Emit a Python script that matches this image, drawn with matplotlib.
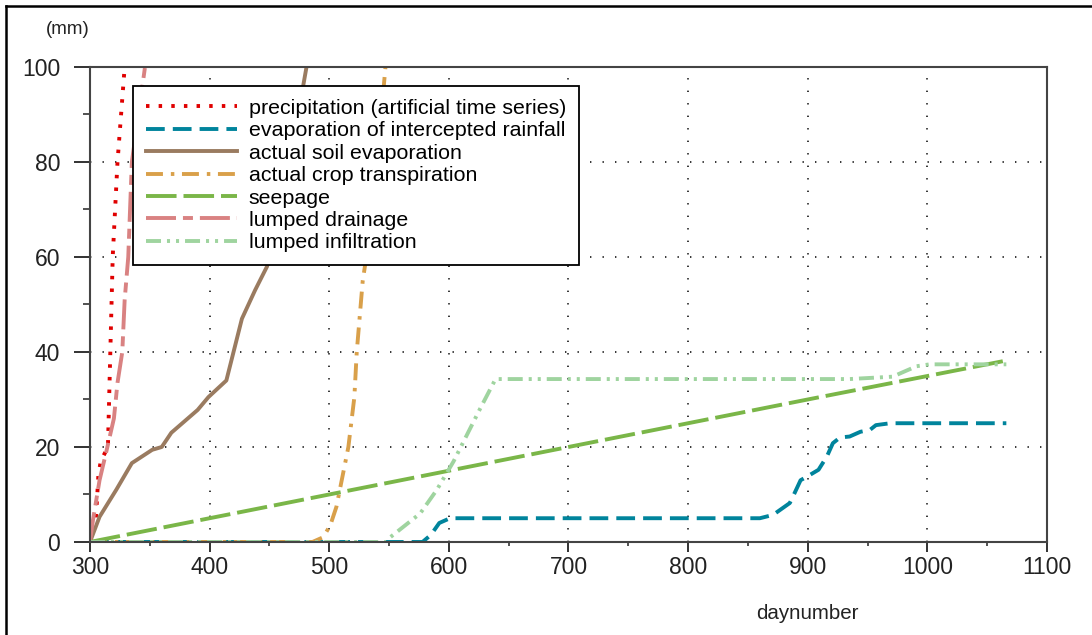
import matplotlib
matplotlib.use("Agg")
import matplotlib.pyplot as plt
from matplotlib.lines import Line2D
from matplotlib.ticker import MultipleLocator

plt.rcParams['font.family'] = ['Liberation Sans', 'DejaVu Sans']
plt.rcParams['lines.scale_dashes'] = False

# precipitation (artificial time series)
precip_day = [300, 305, 307, 309, 315, 317, 319, 323, 329, 335]
precip_mm = [0, 5, 14, 17, 20, 40, 60, 80, 100, 120]

# evaporation of intercepted rainfall
interc_day = [300, 578, 585, 592, 601, 860, 871, 885, 889, 894, 899, 909, 916, 921, 927,
              935, 944, 952, 957, 969, 1066]
interc_mm = [0, 0, 1.5, 4, 5, 5, 5.7, 8.2, 10.3, 13, 13.7, 15.2, 18, 20.8, 22,
             22.2, 23.2, 23.6, 24.6, 25, 25]

# actual soil evaporation
soil_day = [300, 308, 322, 335, 352, 360, 368, 390, 399, 414, 420, 427, 438, 448,
            458, 466, 474, 481]
soil_mm = [0, 5.3, 11, 16.6, 19.4, 20, 23, 27.8, 30.5, 34, 40, 47, 53, 58,
           70, 80, 90, 100]

# actual crop transpiration
crop_day = [300, 486, 495, 501, 506, 511, 516, 521, 523, 526, 528, 531, 540, 547]
crop_mm = [0, 0, 1, 3.6, 7.4, 13.7, 20, 30.5, 40, 49, 55, 60, 80, 100]

# seepage
seep_day = [300, 600, 900, 1066]
seep_mm = [0, 15, 30, 38.2]

# lumped drainage
drain_day = [300, 302.5, 308, 314, 320, 323, 327, 329, 332, 335, 346]
drain_mm = [0, 4.6, 13, 19.4, 26, 33.5, 40, 51, 60, 80, 100]

# lumped infiltration
infil_day = [300, 548, 551, 576, 590, 604, 626, 639, 935, 971, 980, 991, 1002, 1066]
infil_mm = [0, 0, 1, 6, 11, 17, 28, 34.3, 34.3, 34.8, 35.8, 37, 37.4, 37.4]

fig = plt.figure(figsize=(10.92, 6.35), dpi=100)
ax = fig.add_axes([0.0824, 0.1465, 0.8764, 0.748])

lw = 2.8
ax.plot(precip_day, precip_mm, color='#e00000', lw=lw, ls=(0, (2.5, 6.6)),
        label='precipitation (artificial time series)')
ax.plot(interc_day, interc_mm, color='#00849c', lw=lw, ls=(0, (13.5, 5.8)),
        label='evaporation of intercepted rainfall')
ax.plot(soil_day, soil_mm, color='#9a7b60', lw=lw, ls='-',
        label='actual soil evaporation')
ax.plot(crop_day, crop_mm, color='#d9a04a', lw=lw, ls=(0, (12.2, 5.7, 2.5, 5.5)),
        label='actual crop transpiration')
ax.plot(seep_day, seep_mm, color='#7ab648', lw=lw, ls=(0, (22, 5)),
        label='seepage')
ax.plot(drain_day, drain_mm, color='#d98282', lw=lw, ls=(0, (21.6, 5, 7.2, 5)),
        label='lumped drainage')
ax.plot(infil_day, infil_mm, color='#9fd49f', lw=lw,
        ls=(0, (10.8, 4.3, 2.2, 4.3, 2.2, 4.3)),
        label='lumped infiltration')

ax.set_xlim(300, 1100)
ax.set_ylim(0, 100)
ax.xaxis.set_major_locator(MultipleLocator(100))
ax.xaxis.set_minor_locator(MultipleLocator(50))
ax.yaxis.set_major_locator(MultipleLocator(20))
ax.yaxis.set_minor_locator(MultipleLocator(10))
ax.tick_params(which='both', direction='out', colors='#222222', labelsize=16.5)
ax.tick_params(axis='x', which='major', length=7, width=1.3, pad=3)
ax.tick_params(axis='x', which='minor', length=3, width=1.1)
ax.tick_params(axis='y', which='major', length=11.5, width=1.3, pad=10)
ax.tick_params(axis='y', which='minor', length=5, width=1.1)
ax.grid(True, which='major', color='black', ls=(0, (1, 8)), lw=1.1)
for s in ax.spines.values():
    s.set_color('#444444')
    s.set_linewidth(1.5)

leg = ax.legend(loc='upper left', bbox_to_anchor=(0.045, 0.96), borderaxespad=0,
                fontsize=15.4, handlelength=4.25, handletextpad=0.56, labelspacing=0.16,
                borderpad=0.6, fancybox=False, framealpha=1, edgecolor='black')
leg.get_frame().set_linewidth(1.3)

fig.text(0.0618, 0.9528, '(mm)', fontsize=13.5, ha='center', va='center', color='#222222')
fig.text(0.7395, 0.0346, 'daynumber', fontsize=14.8, ha='center', va='center', color='#222222')

# border of the screenshot (top and left edges)
fig.add_artist(Line2D([0.0057, 1.0], [0.990, 0.990], color='black', lw=1.8))
fig.add_artist(Line2D([0.0057, 0.0057], [0.0, 0.990], color='black', lw=1.8))

fig.savefig('out.png', dpi=100)
